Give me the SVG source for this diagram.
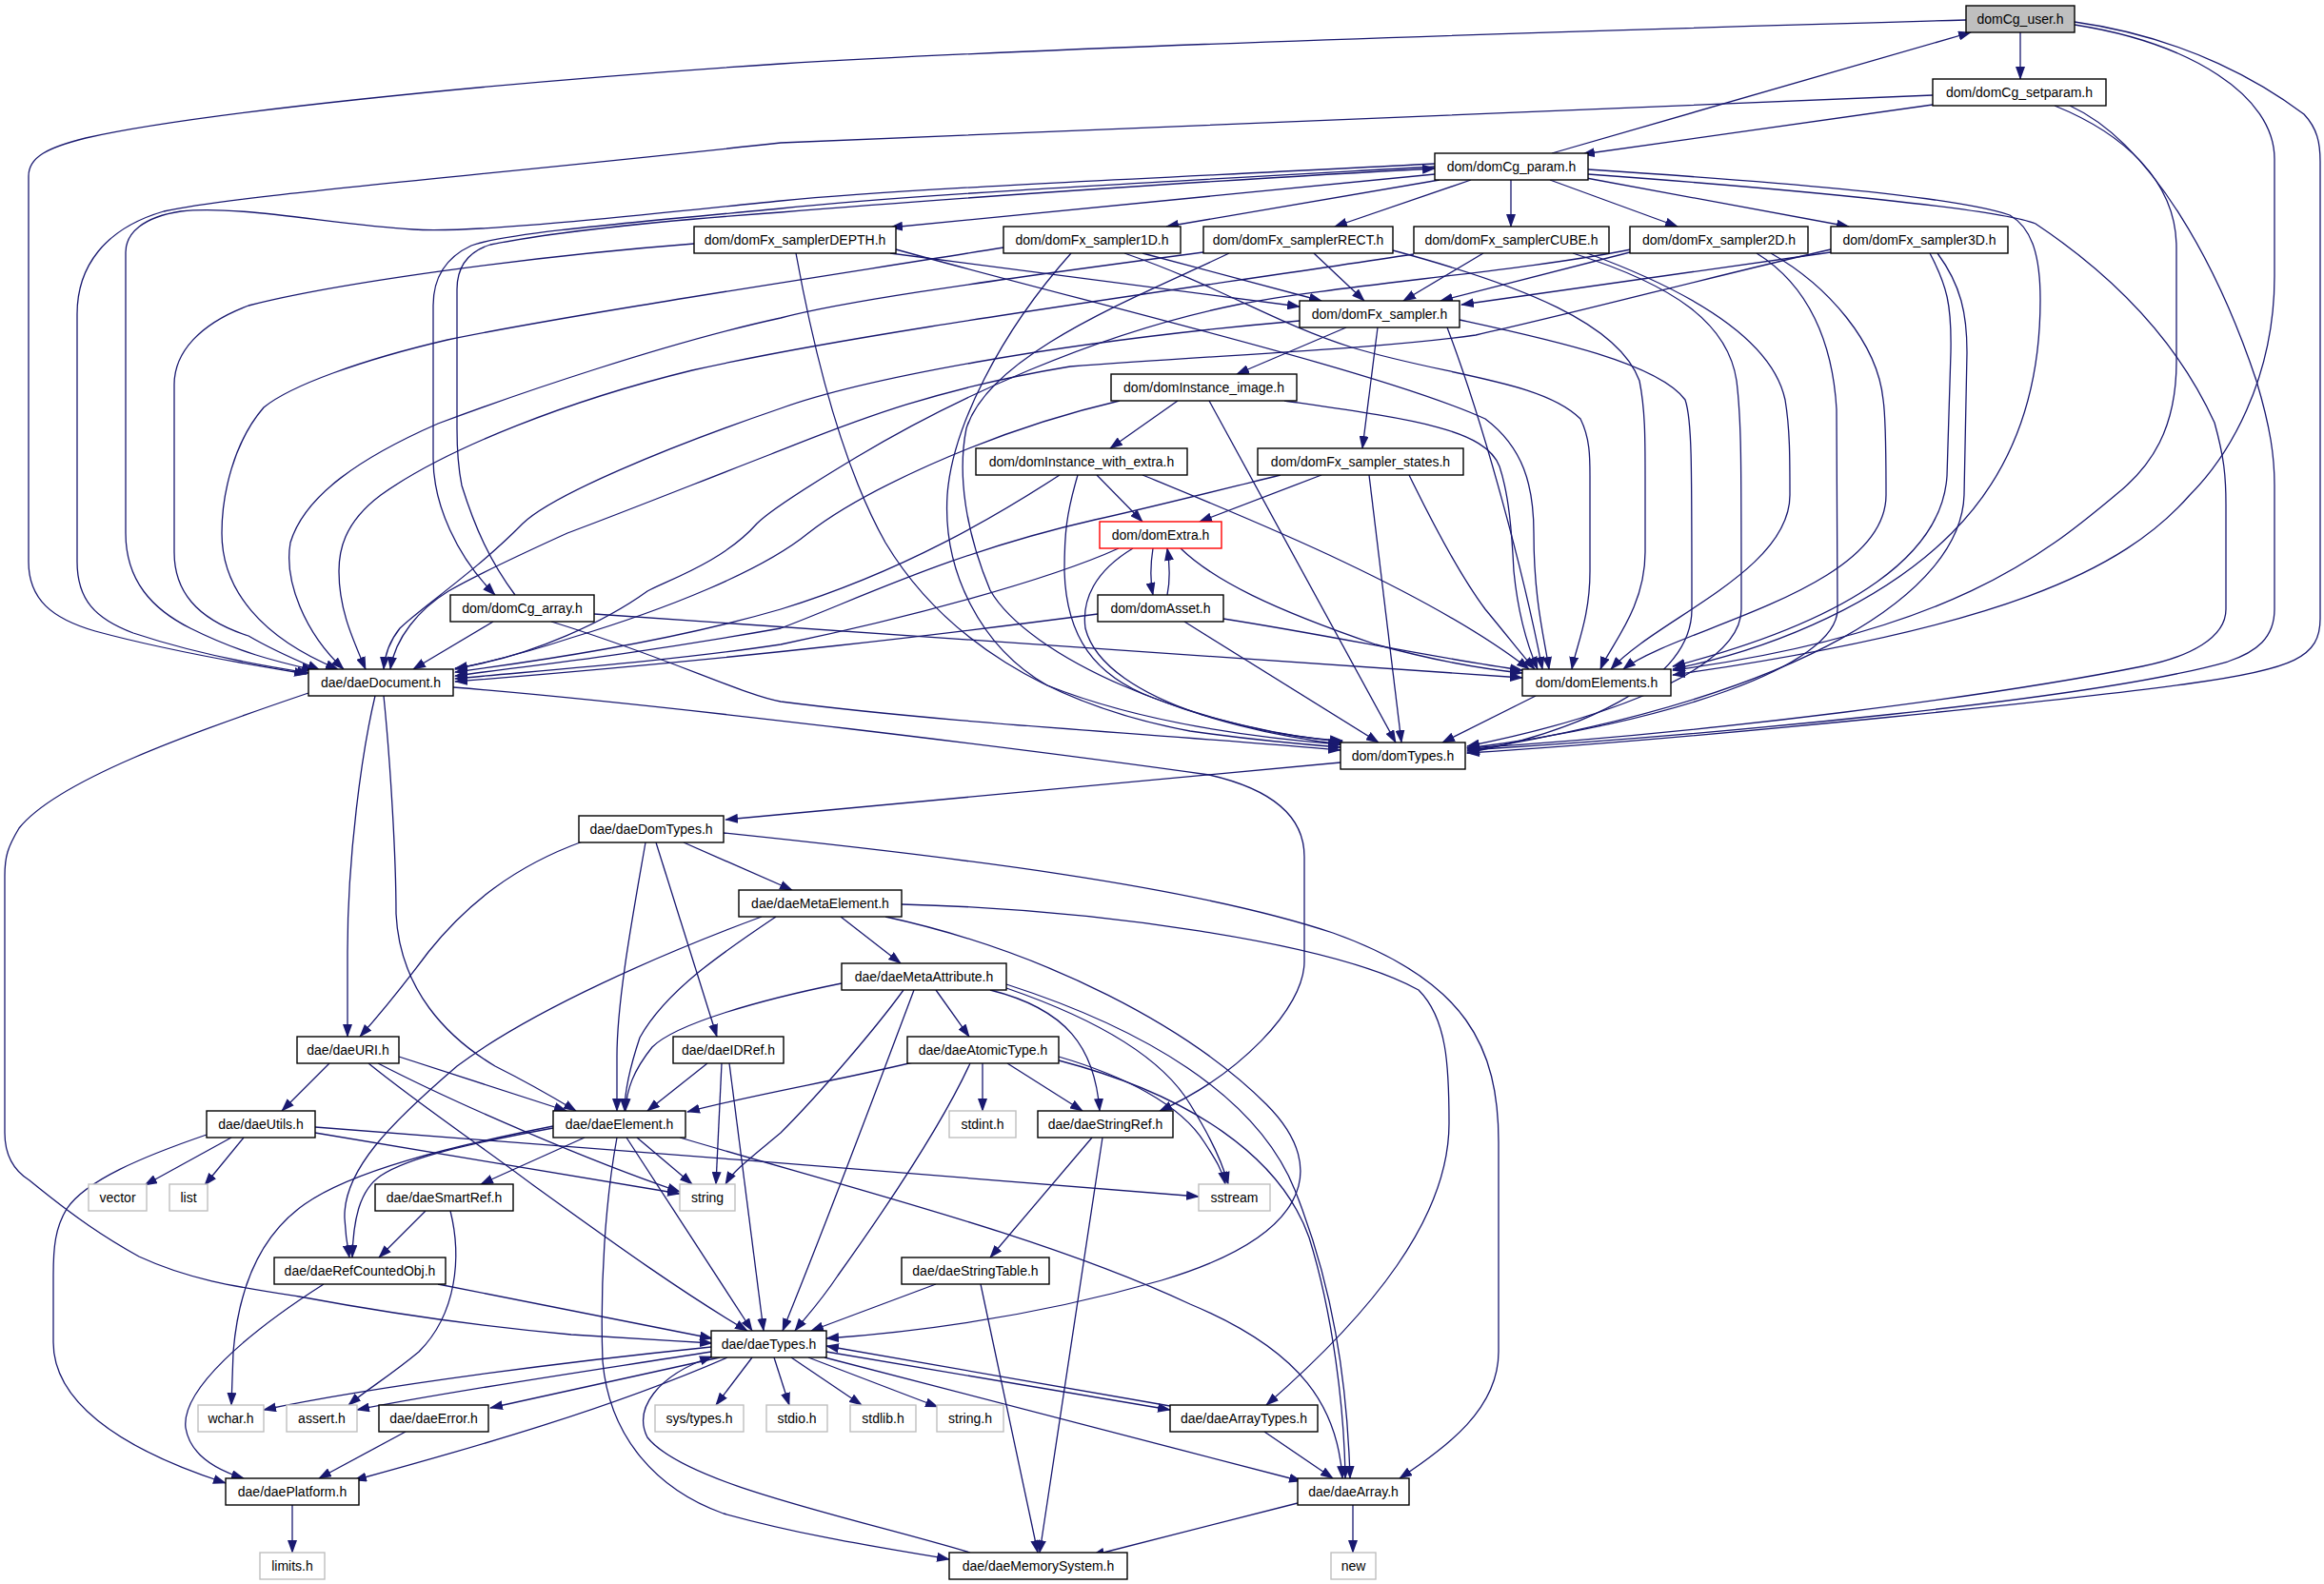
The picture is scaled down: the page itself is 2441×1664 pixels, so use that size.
<svg xmlns="http://www.w3.org/2000/svg" width="2441" height="1664" viewBox="0 0 2441 1664">
<style>
.e path{fill:none;stroke:#191970;stroke-width:1.3;marker-end:url(#ah)}
.n rect{fill:#fff;stroke:#000;stroke-width:1.4}
.n.s rect{stroke:#bfbfbf}
.n.r rect{stroke:#ff0000}
.n.m rect{fill:#bfbfbf}
.n text{font-family:"Liberation Sans",Arial,sans-serif;font-size:14px;text-anchor:middle;fill:#000}
</style>
<defs>
<marker id="ah" viewBox="0 0 14 10" refX="13" refY="5" markerWidth="14" markerHeight="10" markerUnits="userSpaceOnUse" orient="auto"><path d="M0,0L14,5L0,10z" fill="#191970"/></marker>
</defs>
<rect x="0" y="0" width="2441" height="1664" fill="#fff"/>
<g id="edges" class="e">
<path d="M2122,34 L2122,83"/>
<path d="M2065,21 C1600,34 1100,50 820,67 C500,88 200,120 90,145 C50,155 30,165 30,185 L30,590 C30,630 55,650 100,663 C170,682 260,698 322,708"/>
<path d="M2179,26 C2300,45 2389,100 2389,167 L2389,290 C2389,400 2340,480 2300,520 C2230,600 2100,660 1757,709"/>
<path d="M2179,23 C2300,40 2380,90 2420,120 C2434,135 2437,150 2437,170 L2437,650 C2437,690 2410,703 2300,718 C2200,732 1800,775 1541,791"/>
<path d="M1630,161 L2070,34"/>
<path d="M2030,110 L1662,162"/>
<path d="M2030,100 L820,150 C500,185 250,205 172,222 C110,240 81,280 81,330 L81,590 C81,630 100,650 140,665 C200,685 265,698 325,707"/>
<path d="M2158,111 C2230,140 2286,190 2286,260 L2286,380 C2286,450 2260,490 2222,520 C2150,580 2050,665 1757,704"/>
<path d="M2174,111 C2260,150 2330,280 2370,400 C2385,450 2389,480 2389,510 L2389,640 C2389,670 2370,685 2340,695 C2200,735 1800,772 1541,788"/>
<path d="M1507,183 L935,239"/>
<path d="M1512,189 L1225,238"/>
<path d="M1545,189 L1402,238"/>
<path d="M1587,189 L1587,238"/>
<path d="M1628,189 L1762,238"/>
<path d="M1666,187 L1942,238"/>
<path d="M1507,175 C1200,192 950,205 820,219 C650,235 530,245 495,258 C465,272 455,295 455,321 L455,482 C455,530 480,585 520,625"/>
<path d="M541,625 C515,590 499,555 485,510 C481,490 480,470 480,450 L480,304 C480,282 490,265 515,257 C600,240 750,228 820,223 C1000,208 1300,188 1507,177"/>
<path d="M1507,172 C1200,188 950,198 820,211 C650,228 500,245 434,241 C350,236 250,215 190,222 C150,228 132,245 132,265 L132,560 C132,610 160,640 200,660 C250,685 290,695 330,704"/>
<path d="M1668,178 C1850,190 2050,205 2111,226 C2135,240 2143,270 2143,315 C2143,420 2110,500 2050,560 C1980,630 1870,680 1757,703"/>
<path d="M1668,183 C1900,200 2100,220 2138,235 C2219,289 2286,356 2326,444 C2336,480 2338,500 2338,530 L2338,640 C2338,670 2300,690 2250,700 C2100,730 1800,770 1541,786"/>
<path d="M935,266 L1365,322"/>
<path d="M729,256 C550,270 350,298 261,321 C210,340 183,370 183,404 L183,580 C183,620 205,650 261,668 C290,685 315,695 336,704"/>
<path d="M941,262 C1150,320 1450,390 1560,440 C1600,470 1611,510 1611,560 C1611,630 1622,670 1627,703"/>
<path d="M836,266 C855,370 885,490 930,570 C990,670 1100,740 1250,768 C1320,778 1370,782 1408,785"/>
<path d="M1200,266 L1388,316"/>
<path d="M1054,260 C900,285 600,330 470,357 C380,378 305,405 277,428 C245,465 233,520 233,560 C233,620 275,670 355,703"/>
<path d="M1181,266 C1280,300 1340,340 1420,365 C1520,395 1620,400 1660,440 C1670,460 1670,480 1670,500 L1670,600 C1670,650 1655,680 1651,703"/>
<path d="M1125,266 C1050,350 1000,450 995,520 C990,600 1030,680 1100,720 C1200,760 1320,775 1408,782"/>
<path d="M1380,266 L1433,316"/>
<path d="M1264,265 C1000,300 880,318 820,334 C700,360 540,415 460,445 C380,480 320,520 305,570 C298,610 320,665 361,703"/>
<path d="M1463,263 C1600,300 1700,340 1722,400 C1728,430 1728,460 1728,500 L1728,580 C1728,640 1690,680 1681,703"/>
<path d="M1291,266 C1200,310 1040,370 1015,450 C1005,500 1015,560 1040,620 C1080,690 1250,765 1410,779"/>
<path d="M1558,266 L1474,316"/>
<path d="M1485,267 C1200,310 900,350 727,389 C600,420 470,470 400,520 C360,550 356,580 356,600 C356,640 370,670 384,703"/>
<path d="M1667,266 C1760,300 1860,350 1875,420 C1880,450 1880,480 1880,520 C1880,600 1740,650 1692,703"/>
<path d="M1652,266 C1760,300 1815,340 1824,400 C1829,440 1829,480 1829,640 C1829,700 1700,752 1541,784"/>
<path d="M1712,265 L1513,316"/>
<path d="M1713,262 C1600,285 1400,300 1300,320 C1150,350 1000,420 900,480 C850,510 810,535 795,550 C760,590 700,610 680,621 C640,650 560,690 478,702"/>
<path d="M1860,266 C1920,300 1972,360 1978,420 C1981,440 1981,480 1981,520 C1981,620 1760,660 1705,703"/>
<path d="M1845,266 C1900,300 1925,360 1929,430 L1930,640 C1930,700 1750,760 1541,786"/>
<path d="M1923,265 L1535,320"/>
<path d="M1923,262 C1800,290 1650,330 1550,352 C1450,366 1300,372 1124,385 C967,411 880,450 810,477 C720,512 650,540 596,560 C530,590 490,610 471,621 C440,640 415,670 410,703"/>
<path d="M2027,266 C2045,300 2050,320 2049,370 L2045,500 C2040,580 1950,650 1757,700"/>
<path d="M2035,266 C2060,300 2066,330 2066,370 L2063,520 C2060,620 1900,730 1541,789"/>
<path d="M1414,344 L1299,393"/>
<path d="M1447,344 L1431,471"/>
<path d="M1365,337 C1100,360 900,400 820,429 C700,470 580,520 549,550 C500,600 440,640 420,660 C408,675 404,690 403,703"/>
<path d="M1520,344 C1560,450 1600,600 1620,703"/>
<path d="M1533,336 C1620,355 1740,380 1770,420 C1777,440 1777,480 1777,640 C1777,720 1650,770 1541,791"/>
<path d="M1237,421 L1166,471"/>
<path d="M1270,421 L1466,780"/>
<path d="M1349,421 C1480,440 1560,450 1575,490 C1585,520 1588,560 1590,600 C1595,650 1605,680 1615,703"/>
<path d="M1176,421 C1030,455 900,520 849,560 C800,600 700,640 600,670 C540,690 500,698 478,703"/>
<path d="M1152,499 L1200,548"/>
<path d="M1113,499 C1050,540 950,600 820,640 C700,675 560,695 478,706"/>
<path d="M1200,499 C1300,540 1500,620 1606,703"/>
<path d="M1132,499 C1120,540 1118,560 1118,600 C1120,670 1150,710 1211,733 C1280,760 1350,775 1410,782"/>
<path d="M1388,499 L1260,548"/>
<path d="M1345,499 C1280,515 1200,535 1150,546 C1000,580 900,630 820,660 C650,690 550,700 478,710"/>
<path d="M1480,499 C1500,540 1530,600 1560,640 C1585,670 1600,690 1612,703"/>
<path d="M1438,499 L1472,780"/>
<path d="M1211,576 C1208,595 1208,610 1211,625"/>
<path d="M1226,625 C1229,610 1229,595 1226,576"/>
<path d="M1175,576 C1100,610 950,650 820,677 C700,695 560,705 478,713"/>
<path d="M1240,576 C1275,610 1337,640 1445,677 C1510,695 1560,703 1599,707"/>
<path d="M1190,576 C1150,600 1136,630 1140,660 C1150,700 1200,730 1260,750 C1330,770 1370,776 1410,778"/>
<path d="M1153,645 C1000,665 800,690 478,716"/>
<path d="M1285,650 C1400,668 1500,690 1599,704"/>
<path d="M1244,653 L1448,780"/>
<path d="M518,653 L434,703"/>
<path d="M624,645 L1599,712"/>
<path d="M579,653 C700,690 780,730 820,737 C1000,760 1200,770 1408,788"/>
<path d="M1613,731 L1515,780"/>
<path d="M1408,801 L762,861"/>
<path d="M394,731 C380,790 365,900 365,1000 L365,1089"/>
<path d="M403,731 C410,800 416,900 416,960 C420,1040 470,1090 520,1120 C560,1140 585,1155 605,1167"/>
<path d="M324,728 C200,770 60,820 20,870 C8,890 5,900 5,920 L5,1190 C5,1215 15,1230 31,1240 C80,1280 110,1300 146,1320 C200,1345 250,1352 314,1362 C400,1378 500,1393 600,1402 C660,1406 700,1408 748,1411"/>
<path d="M476,722 C700,740 1100,790 1270,814 C1340,830 1370,860 1370,900 L1370,1010 C1370,1060 1300,1130 1218,1167"/>
<path d="M612,884 C540,910 490,950 450,1000 C420,1040 395,1070 378,1089"/>
<path d="M678,885 C665,960 648,1050 648,1110 L648,1167"/>
<path d="M689,885 L753,1089"/>
<path d="M718,885 L832,935"/>
<path d="M760,875 C1000,900 1250,930 1400,980 C1540,1030 1574,1100 1574,1200 L1574,1420 C1574,1480 1520,1520 1470,1553"/>
<path d="M883,963 L946,1012"/>
<path d="M815,963 C760,1000 700,1040 672,1090 C662,1120 656,1145 656,1167"/>
<path d="M800,963 C700,1000 560,1060 480,1120 C410,1180 360,1230 362,1280 C363,1300 365,1310 367,1321"/>
<path d="M930,963 C1100,1000 1250,1080 1330,1160 C1400,1230 1370,1300 1220,1345 C1080,1385 950,1400 868,1406"/>
<path d="M947,950 C1150,955 1400,990 1490,1040 C1520,1070 1522,1120 1522,1180 C1522,1280 1440,1380 1330,1476"/>
<path d="M884,1033 C800,1050 710,1075 685,1100 C665,1125 658,1145 657,1167"/>
<path d="M949,1040 C920,1080 860,1150 820,1190 C790,1215 770,1230 762,1244"/>
<path d="M960,1040 C930,1120 870,1280 822,1398"/>
<path d="M983,1040 L1018,1089"/>
<path d="M1040,1040 C1120,1060 1150,1100 1155,1167"/>
<path d="M1057,1038 C1150,1070 1220,1110 1250,1160 C1275,1200 1285,1225 1290,1244"/>
<path d="M1057,1034 C1200,1080 1320,1150 1360,1250 C1400,1350 1415,1450 1418,1553"/>
<path d="M1032,1117 L1032,1167"/>
<path d="M1058,1117 L1137,1167"/>
<path d="M959,1116 C880,1135 790,1150 722,1168"/>
<path d="M1019,1117 C990,1180 930,1270 880,1340 C860,1370 845,1385 835,1398"/>
<path d="M1112,1110 C1180,1130 1240,1160 1265,1200 C1278,1220 1284,1230 1287,1244"/>
<path d="M1112,1114 C1250,1150 1345,1215 1375,1300 C1400,1380 1412,1480 1413,1553"/>
<path d="M743,1117 L680,1167"/>
<path d="M758,1117 L752,1244"/>
<path d="M766,1117 L802,1398"/>
<path d="M346,1117 L296,1167"/>
<path d="M419,1110 L595,1167"/>
<path d="M397,1117 C480,1160 620,1220 714,1252"/>
<path d="M387,1117 C440,1160 500,1200 560,1245 C650,1310 720,1360 785,1398"/>
<path d="M243,1195 L152,1245"/>
<path d="M256,1195 L215,1245"/>
<path d="M331,1190 C450,1210 600,1235 714,1254"/>
<path d="M331,1184 C600,1205 1000,1235 1259,1257"/>
<path d="M217,1192 C150,1215 90,1240 70,1270 C58,1290 56,1310 56,1340 L56,1410 C56,1470 120,1520 237,1558"/>
<path d="M614,1195 L505,1244"/>
<path d="M581,1185 C500,1200 430,1215 400,1235 C378,1250 371,1280 370,1321"/>
<path d="M581,1183 C470,1205 370,1230 320,1265 C270,1300 250,1360 245,1420 L243,1476"/>
<path d="M669,1195 L727,1244"/>
<path d="M658,1195 L790,1398"/>
<path d="M648,1195 C636,1260 630,1350 633,1430 C640,1510 690,1565 760,1590 C850,1615 940,1628 997,1638"/>
<path d="M714,1195 C900,1250 1100,1300 1250,1370 C1370,1420 1405,1480 1410,1553"/>
<path d="M447,1272 L398,1321"/>
<path d="M473,1272 C485,1320 480,1380 440,1420 C410,1445 385,1460 366,1476"/>
<path d="M460,1349 L748,1406"/>
<path d="M340,1349 C260,1400 190,1460 195,1500 C200,1530 230,1545 256,1553"/>
<path d="M1147,1195 L1040,1321"/>
<path d="M1158,1195 L1092,1631"/>
<path d="M983,1349 L852,1398"/>
<path d="M1030,1349 L1090,1631"/>
<path d="M747,1415 C600,1430 400,1455 277,1481"/>
<path d="M747,1420 C620,1440 480,1460 375,1481"/>
<path d="M756,1426 L515,1479"/>
<path d="M764,1426 C640,1480 500,1520 372,1555"/>
<path d="M790,1426 L752,1476"/>
<path d="M813,1426 L829,1476"/>
<path d="M831,1426 L905,1476"/>
<path d="M849,1426 L985,1478"/>
<path d="M868,1420 L1229,1481"/>
<path d="M1229,1477 L868,1414"/>
<path d="M866,1426 L1367,1556"/>
<path d="M426,1504 L335,1553"/>
<path d="M307,1581 L307,1631"/>
<path d="M1328,1504 L1400,1553"/>
<path d="M1363,1579 L1147,1634"/>
<path d="M1421,1581 L1421,1631"/>
<path d="M1019,1631 C900,1595 720,1560 680,1510 C665,1480 690,1445 748,1425"/>
</g>
<g id="n_user" class="n m"><rect x="2065" y="6" width="114" height="28"/><text x="2122" y="25">domCg_user.h</text></g>
<g id="n_setparam" class="n"><rect x="2030" y="83" width="182" height="28"/><text x="2121" y="102">dom/domCg_setparam.h</text></g>
<g id="n_param" class="n"><rect x="1507" y="161" width="161" height="28"/><text x="1587.5" y="180">dom/domCg_param.h</text></g>
<g id="n_depth" class="n"><rect x="729" y="238" width="212" height="28"/><text x="835" y="257">dom/domFx_samplerDEPTH.h</text></g>
<g id="n_1d" class="n"><rect x="1054" y="238" width="186" height="28"/><text x="1147" y="257">dom/domFx_sampler1D.h</text></g>
<g id="n_rect" class="n"><rect x="1264" y="238" width="199" height="28"/><text x="1363.5" y="257">dom/domFx_samplerRECT.h</text></g>
<g id="n_cube" class="n"><rect x="1485" y="238" width="205" height="28"/><text x="1587.5" y="257">dom/domFx_samplerCUBE.h</text></g>
<g id="n_2d" class="n"><rect x="1712" y="238" width="187" height="28"/><text x="1805.5" y="257">dom/domFx_sampler2D.h</text></g>
<g id="n_3d" class="n"><rect x="1923" y="238" width="186" height="28"/><text x="2016" y="257">dom/domFx_sampler3D.h</text></g>
<g id="n_fxs" class="n"><rect x="1365" y="316" width="168" height="28"/><text x="1449" y="335">dom/domFx_sampler.h</text></g>
<g id="n_instimg" class="n"><rect x="1167" y="393" width="195" height="28"/><text x="1264.5" y="412">dom/domInstance_image.h</text></g>
<g id="n_instwe" class="n"><rect x="1025" y="471" width="222" height="28"/><text x="1136" y="490">dom/domInstance_with_extra.h</text></g>
<g id="n_states" class="n"><rect x="1321" y="471" width="216" height="28"/><text x="1429" y="490">dom/domFx_sampler_states.h</text></g>
<g id="n_extra" class="n r"><rect x="1155" y="548" width="128" height="28"/><text x="1219" y="567">dom/domExtra.h</text></g>
<g id="n_asset" class="n"><rect x="1153" y="625" width="132" height="28"/><text x="1219" y="644">dom/domAsset.h</text></g>
<g id="n_cgarray" class="n"><rect x="473" y="625" width="151" height="28"/><text x="548.5" y="644">dom/domCg_array.h</text></g>
<g id="n_doc" class="n"><rect x="324" y="703" width="152" height="28"/><text x="400" y="722">dae/daeDocument.h</text></g>
<g id="n_elements" class="n"><rect x="1599" y="703" width="156" height="28"/><text x="1677" y="722">dom/domElements.h</text></g>
<g id="n_domtypes" class="n"><rect x="1408" y="780" width="131" height="28"/><text x="1473.5" y="799">dom/domTypes.h</text></g>
<g id="n_daedomtypes" class="n"><rect x="608" y="857" width="152" height="28"/><text x="684" y="876">dae/daeDomTypes.h</text></g>
<g id="n_metael" class="n"><rect x="776" y="935" width="171" height="28"/><text x="861.5" y="954">dae/daeMetaElement.h</text></g>
<g id="n_metaat" class="n"><rect x="884" y="1012" width="173" height="28"/><text x="970.5" y="1031">dae/daeMetaAttribute.h</text></g>
<g id="n_uri" class="n"><rect x="312" y="1089" width="107" height="28"/><text x="365.5" y="1108">dae/daeURI.h</text></g>
<g id="n_idref" class="n"><rect x="707" y="1089" width="116" height="28"/><text x="765" y="1108">dae/daeIDRef.h</text></g>
<g id="n_atomic" class="n"><rect x="953" y="1089" width="159" height="28"/><text x="1032.5" y="1108">dae/daeAtomicType.h</text></g>
<g id="n_utils" class="n"><rect x="217" y="1167" width="114" height="28"/><text x="274" y="1186">dae/daeUtils.h</text></g>
<g id="n_element" class="n"><rect x="581" y="1167" width="139" height="28"/><text x="650.5" y="1186">dae/daeElement.h</text></g>
<g id="n_stdint" class="n s"><rect x="997" y="1167" width="70" height="28"/><text x="1032" y="1186">stdint.h</text></g>
<g id="n_strref" class="n"><rect x="1090" y="1167" width="142" height="28"/><text x="1161" y="1186">dae/daeStringRef.h</text></g>
<g id="n_vector" class="n s"><rect x="93" y="1244" width="61" height="28"/><text x="123.5" y="1263">vector</text></g>
<g id="n_list" class="n s"><rect x="178" y="1244" width="40" height="28"/><text x="198" y="1263">list</text></g>
<g id="n_smartref" class="n"><rect x="394" y="1244" width="145" height="28"/><text x="466.5" y="1263">dae/daeSmartRef.h</text></g>
<g id="n_string" class="n s"><rect x="714" y="1244" width="58" height="28"/><text x="743" y="1263">string</text></g>
<g id="n_sstream" class="n s"><rect x="1259" y="1244" width="75" height="28"/><text x="1296.5" y="1263">sstream</text></g>
<g id="n_refcnt" class="n"><rect x="288" y="1321" width="180" height="28"/><text x="378" y="1340">dae/daeRefCountedObj.h</text></g>
<g id="n_strtab" class="n"><rect x="947" y="1321" width="155" height="28"/><text x="1024.5" y="1340">dae/daeStringTable.h</text></g>
<g id="n_daetypes" class="n"><rect x="747" y="1398" width="121" height="28"/><text x="807.5" y="1417">dae/daeTypes.h</text></g>
<g id="n_wchar" class="n s"><rect x="208" y="1476" width="69" height="28"/><text x="242.5" y="1495">wchar.h</text></g>
<g id="n_assert" class="n s"><rect x="301" y="1476" width="74" height="28"/><text x="338" y="1495">assert.h</text></g>
<g id="n_error" class="n"><rect x="398" y="1476" width="115" height="28"/><text x="455.5" y="1495">dae/daeError.h</text></g>
<g id="n_systypes" class="n s"><rect x="688" y="1476" width="93" height="28"/><text x="734.5" y="1495">sys/types.h</text></g>
<g id="n_stdio" class="n s"><rect x="805" y="1476" width="64" height="28"/><text x="837" y="1495">stdio.h</text></g>
<g id="n_stdlib" class="n s"><rect x="893" y="1476" width="69" height="28"/><text x="927.5" y="1495">stdlib.h</text></g>
<g id="n_stringh" class="n s"><rect x="984" y="1476" width="70" height="28"/><text x="1019" y="1495">string.h</text></g>
<g id="n_arrtypes" class="n"><rect x="1229" y="1476" width="155" height="28"/><text x="1306.5" y="1495">dae/daeArrayTypes.h</text></g>
<g id="n_platform" class="n"><rect x="237" y="1553" width="140" height="28"/><text x="307" y="1572">dae/daePlatform.h</text></g>
<g id="n_array" class="n"><rect x="1363" y="1553" width="117" height="28"/><text x="1421.5" y="1572">dae/daeArray.h</text></g>
<g id="n_limits" class="n s"><rect x="273" y="1631" width="68" height="28"/><text x="307" y="1650">limits.h</text></g>
<g id="n_memsys" class="n"><rect x="997" y="1631" width="187" height="28"/><text x="1090.5" y="1650">dae/daeMemorySystem.h</text></g>
<g id="n_new" class="n s"><rect x="1398" y="1631" width="47" height="28"/><text x="1421.5" y="1650">new</text></g>
</svg>
